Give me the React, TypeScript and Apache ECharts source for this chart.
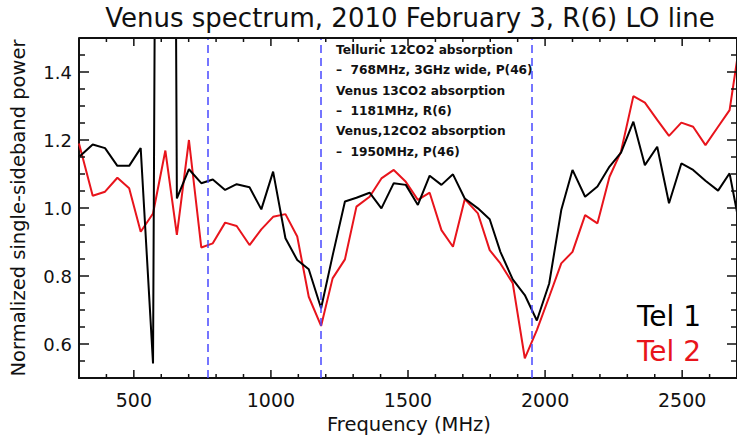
import React, { useEffect, useRef } from "react";
import * as echarts from "echarts";

const frequencies = [
  300, 350, 395, 440, 483, 525, 570, 615, 657, 701, 746, 788, 833, 875, 922, 965,
  1008, 1053, 1096, 1138, 1183, 1225, 1270, 1312, 1360, 1403, 1448, 1492, 1536,
  1579, 1622, 1664, 1707, 1755, 1798, 1837, 1882, 1926, 1970, 2015, 2059, 2100,
  2146, 2191, 2235, 2277, 2322, 2364, 2409, 2452, 2497, 2540, 2585, 2631, 2673, 2716,
];
const tel1Power = [
  1.15, 1.187, 1.176, 1.124, 1.124, 1.176, 0.543, 8.0, 1.028, 1.114, 1.073, 1.084,
  1.053, 1.07, 1.061, 0.996, 1.107, 0.911, 0.847, 0.82, 0.705, 0.86, 1.019, 1.03,
  1.045, 0.999, 1.073, 1.068, 1.009, 1.095, 1.068, 1.099, 1.028, 0.999, 0.967,
  0.871, 0.79, 0.744, 0.669, 0.778, 0.994, 1.112, 1.033, 1.063, 1.122, 1.163,
  1.254, 1.126, 1.18, 1.014, 1.131, 1.112, 1.08, 1.051, 1.102, 0.92,
];
const tel2Power = [
  1.19, 1.036, 1.048, 1.089, 1.058, 0.93, 0.984, 1.169, 0.921, 1.2, 0.884, 0.896,
  0.957, 0.947, 0.891, 0.937, 0.974, 0.982, 0.916, 0.739, 0.653, 0.793, 0.849,
  1.004, 1.033, 1.087, 1.112, 1.077, 1.024, 1.045, 0.935, 0.886, 1.026, 0.984,
  0.876, 0.837, 0.779, 0.558, 0.641, 0.739, 0.837, 0.871, 0.979, 0.955, 1.092,
  1.166, 1.329, 1.31, 1.259, 1.212, 1.251, 1.239, 1.185, 1.239, 1.288, 1.52,
];
const seriesNames = ["Tel 1", "Tel 2"];
const xMajorTicks = [500, 1000, 1500, 2000, 2500];
const yMajorTicks = [0.6, 0.8, 1.0, 1.2, 1.4];
const xRange = [300, 2700];
const yRange = [0.5, 1.5];
const xMinorStep = 100;
const yMinorStep = 0.05;
const absorptionLines = [768, 1181, 1950];
const annotationLines = [
  "Telluric 12CO2 absorption",
  "–  768MHz, 3GHz wide, P(46)",
  "Venus 13CO2 absorption",
  "–  1181MHz, R(6)",
  "Venus,12CO2 absorption",
  "–  1950MHz, P(46)",
];
const titleText = "Venus spectrum, 2010 February 3, R(6) LO line";
const xAxisTitle = "Frequency (MHz)";
const yAxisTitle = "Normalized single-sideband power";

const FONT = "DejaVu Sans";
const RED = "#e8141c";
const INK = "#111";

export default function App() {
  const ref = useRef<HTMLDivElement>(null);
  useEffect(() => {
    document.body.style.margin = "0";
    const chart = echarts.init(ref.current!, null, { renderer: "svg" });
    const [xMin, xMax] = xRange;
    const [yMin, yMax] = yRange;

    // frame items: [x, y, kind, len]
    // kind 0 bottom tick, 1 top tick, 2 left tick, 3 right tick, 4 top edge, 5 right edge
    const frameItems: number[][] = [];
    const xTickVals: number[][] = xMajorTicks.map((v) => [v, 8]);
    for (let k = 1; xMin + k * xMinorStep < xMax; k++) {
      const v = xMin + k * xMinorStep;
      if (!xMajorTicks.includes(v)) xTickVals.push([v, 4]);
    }
    const yTickVals: number[][] = yMajorTicks.map((v) => [v, 10]);
    for (let k = 1; yMin + k * yMinorStep < yMax - 1e-9; k++) {
      const v = +(yMin + k * yMinorStep).toFixed(2);
      if (!yMajorTicks.some((m) => Math.abs(m - v) < 1e-6)) yTickVals.push([v, 6]);
    }
    xTickVals.forEach(([v, len]) => {
      frameItems.push([v, yMin, 0, len]);
      frameItems.push([v, yMax, 1, len]);
    });
    yTickVals.forEach(([v, len]) => {
      frameItems.push([xMin, v, 2, len]);
      frameItems.push([xMax, v, 3, len]);
    });
    frameItems.push([xMin, yMax, 4, 0]);
    frameItems.push([xMax, yMin, 5, 0]);

    const toPairs = (vals: number[]) => frequencies.map((f, i) => [f, vals[i]]);

    chart.setOption({
      animation: false,
      backgroundColor: "#fff",
      grid: { left: 79, top: 38, width: 660, height: 340 },
      xAxis: {
        type: "value",
        min: xMin,
        max: xMax,
        axisLine: { show: true, lineStyle: { color: INK, width: 2 } },
        axisTick: { show: false },
        splitLine: { show: false },
        axisLabel: {
          show: true,
          customValues: xMajorTicks,
          formatter: (v: number) => String(v),
          fontSize: 19,
          fontFamily: FONT,
          color: INK,
          margin: 12,
        },
      },
      yAxis: {
        type: "value",
        min: yMin,
        max: yMax,
        axisLine: { show: true, lineStyle: { color: INK, width: 2 } },
        axisTick: { show: false },
        splitLine: { show: false },
        axisLabel: {
          show: true,
          customValues: yMajorTicks,
          fontSize: 18,
          fontFamily: FONT,
          color: INK,
          margin: 7,
          formatter: (v: number) => v.toFixed(1),
        },
      },
      series: [
        {
          name: seriesNames[0],
          type: "line",
          data: toPairs(tel1Power),
          showSymbol: false,
          symbol: "none",
          clip: true,
          lineStyle: { color: "#000", width: 2 },
          z: 3,
          markLine: {
            silent: true,
            symbol: "none",
            label: { show: false },
            lineStyle: { color: "#4848ff", width: 1.5, type: [8, 5] },
            data: absorptionLines.map((f) => ({ xAxis: f })),
          },
        },
        {
          name: seriesNames[1],
          type: "line",
          data: toPairs(tel2Power),
          showSymbol: false,
          symbol: "none",
          clip: true,
          lineStyle: { color: RED, width: 2 },
          z: 2,
        },
        {
          type: "custom",
          silent: true,
          z: 5,
          data: frameItems,
          renderItem: (params: any, api: any) => {
            const kind = api.value(2);
            const len = api.value(3);
            const p = api.coord([api.value(0), api.value(1)]);
            let shape: any;
            let lw = 1.5;
            if (kind === 0) shape = { x1: p[0], y1: p[1], x2: p[0], y2: p[1] - len };
            else if (kind === 1) shape = { x1: p[0], y1: p[1], x2: p[0], y2: p[1] + len };
            else if (kind === 2) shape = { x1: p[0], y1: p[1], x2: p[0] + len, y2: p[1] };
            else if (kind === 3) shape = { x1: p[0], y1: p[1], x2: p[0] - len, y2: p[1] };
            else {
              const q = api.coord([xMax, yMax]);
              shape = { x1: p[0], y1: p[1], x2: q[0], y2: q[1] };
              lw = 2;
            }
            return { type: "line", shape, style: { stroke: INK, lineWidth: lw } };
          },
        },
      ],
      graphic: [
        {
          type: "text",
          x: 410,
          y: 18,
          style: {
            text: titleText,
            fontSize: 26,
            fontFamily: FONT,
            fill: INK,
            textAlign: "center",
            textVerticalAlign: "middle",
          },
        },
        {
          type: "text",
          x: 409,
          y: 424,
          style: {
            text: xAxisTitle,
            fontSize: 19.5,
            fontFamily: FONT,
            fill: INK,
            textAlign: "center",
            textVerticalAlign: "middle",
          },
        },
        {
          type: "text",
          x: 18,
          y: 208,
          rotation: Math.PI / 2,
          style: {
            text: yAxisTitle,
            fontSize: 19.5,
            fontFamily: FONT,
            fill: INK,
            textAlign: "center",
            textVerticalAlign: "middle",
          },
        },
        ...annotationLines.map((t, i) => ({
          type: "text",
          x: 336,
          y: 50 + i * 20.3,
          style: {
            text: t,
            fontSize: 12.2,
            fontWeight: "bold",
            fontFamily: FONT,
            fill: INK,
            textAlign: "left",
            textVerticalAlign: "middle",
          },
        })),
        ...seriesNames.map((n, i) => ({
          type: "text",
          x: 701,
          y: 316 + i * 35,
          style: {
            text: n,
            fontSize: 28,
            fontFamily: FONT,
            fill: i === 0 ? "#000" : RED,
            textAlign: "right",
            textVerticalAlign: "middle",
          },
        })),
      ],
    });
    return () => chart.dispose();
  }, []);
  return <div ref={ref} style={{ width: 737, height: 439 }} />;
}
